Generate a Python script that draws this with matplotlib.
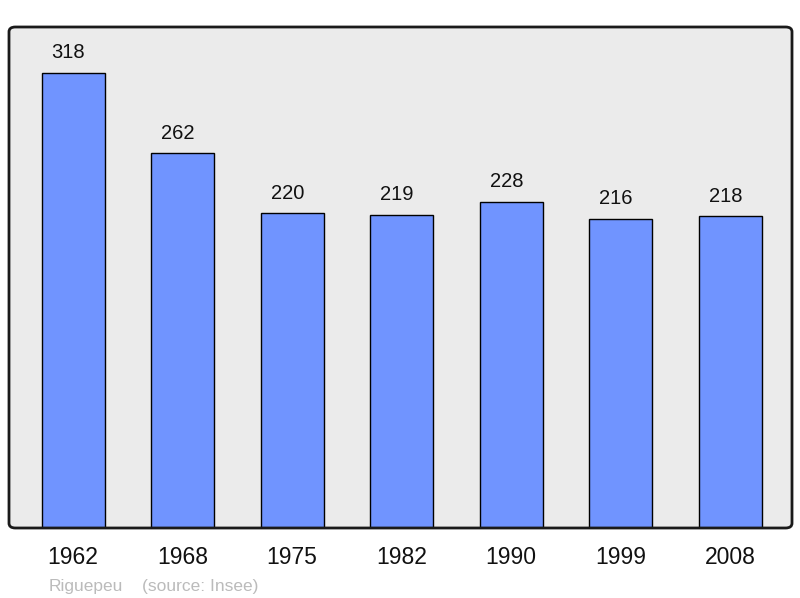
import matplotlib.pyplot as plt
from matplotlib.patches import FancyBboxPatch

years = ['1962', '1968', '1975', '1982', '1990', '1999', '2008']
population = [318, 262, 220, 219, 228, 216, 218]
commune = 'Riguepeu'
source = '(source: Insee)'

plt.rcParams['font.family'] = ['Liberation Sans', 'DejaVu Sans']

fig = plt.figure(figsize=(8, 5.98), dpi=100)
x0, x1 = 9 / 800, 792 / 800
y0, y1 = (598 - 528) / 598, (598 - 27) / 598
ax = fig.add_axes([x0, y0, x1 - x0, y1 - y0])
ax.set_facecolor('none')

# rounded frame: fill behind the axes, outline on top
box = dict(boxstyle='round,pad=0,rounding_size=0.008', transform=fig.transFigure)
fill = FancyBboxPatch((x0, y0), x1 - x0, y1 - y0, facecolor='#ebebeb',
                      edgecolor='none', zorder=-1, **box)
edge = FancyBboxPatch((x0, y0), x1 - x0, y1 - y0, facecolor='none',
                      edgecolor='#1a1a1a', linewidth=2, zorder=5, **box)
fig.patches.extend([fill, edge])

pos = range(len(years))
ax.bar(pos, population, width=0.575, color='#7094ff', edgecolor='black',
       linewidth=1.0, zorder=2)
# value labels sit a little left of the bar centre, as in the original
for i, v in zip(pos, population):
    ax.annotate(str(v), (i, v), xytext=(-3.3, 7.5), textcoords='offset points',
                ha='center', va='bottom', fontsize=14.5, color='#111111')

ax.set_xlim(-0.585, 6.566)
ax.set_ylim(0, 350)
ax.set_yticks([])
ax.set_xticks(list(pos))
ax.set_xticklabels(years, fontsize=16.5, color='#111111')
ax.tick_params(axis='x', length=0, pad=13)
for s in ax.spines.values():
    s.set_visible(False)

fig.text(49 / 800, 1 - 587 / 598, commune, fontsize=12.5, color='#bbbbbb',
         va='center', ha='left')
fig.text(142 / 800, 1 - 587 / 598, source, fontsize=12.5, color='#bbbbbb',
         va='center', ha='left')

fig.savefig('out.png', dpi=100)
